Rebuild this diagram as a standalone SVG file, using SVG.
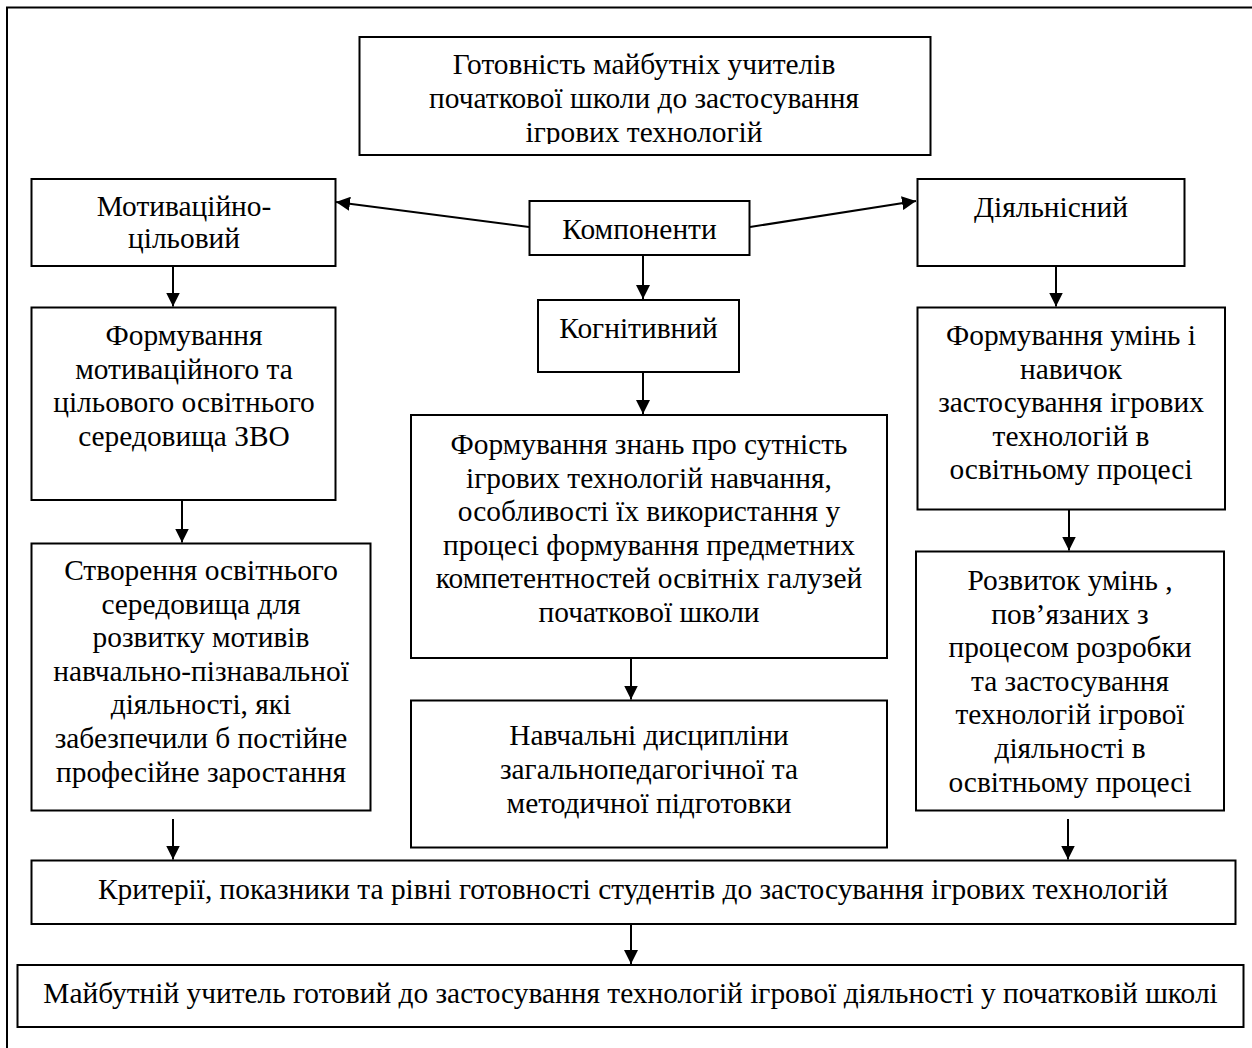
<svg xmlns="http://www.w3.org/2000/svg" width="1252" height="1048" viewBox="0 0 1252 1048">
<style>
.box{fill:#fff;stroke:#000;stroke-width:2}
.t{font-family:"Liberation Serif","Times New Roman",serif;font-size:29.4px;fill:#000;text-anchor:middle}
.c{stroke:#000;stroke-width:2;fill:none;marker-end:url(#ah)}
</style>
<defs>
<marker id="ah" markerWidth="14" markerHeight="14" refX="14" refY="7" orient="auto" markerUnits="userSpaceOnUse"><path d="M0,0 L14,7 L0,14 z" fill="#000"/></marker>
<clipPath id="tclip"><rect x="359" y="37" width="571" height="107"/></clipPath>
</defs>
<rect x="0" y="0" width="1252" height="1048" fill="#fff"/>
<rect x="7" y="7.5" width="1262" height="1060" fill="none" stroke="#000" stroke-width="2"/>

<g id="title">
<rect class="box" x="359.5" y="37" width="571" height="118"/>
<g clip-path="url(#tclip)">
<text class="t" x="644" y="74">Готовність майбутніх учителів</text>
<text class="t" x="644" y="108">початкової школи до застосування</text>
<text class="t" x="644" y="142">ігрових технологій</text>
</g>
</g>

<g id="motiv">
<rect class="box" x="31.5" y="179" width="304" height="87"/>
<text class="t" x="184" y="216">Мотиваційно-</text>
<text class="t" x="184" y="248">цільовий</text>
</g>

<g id="komponenty">
<rect class="box" x="529.5" y="201" width="220" height="54"/>
<text class="t" x="639.5" y="239">Компоненти</text>
</g>

<g id="diyal">
<rect class="box" x="917.5" y="179" width="267" height="87"/>
<text class="t" x="1051" y="217">Діяльнісний</text>
</g>

<g id="kognit">
<rect class="box" x="538" y="300" width="201" height="72"/>
<text class="t" x="638.5" y="338">Когнітивний</text>
</g>

<g id="form-motiv">
<rect class="box" x="31.5" y="307.5" width="304" height="192.5"/>
<text class="t" x="184" y="345">Формування</text>
<text class="t" x="184" y="378.6">мотиваційного та</text>
<text class="t" x="184" y="412.2">цільового освітнього</text>
<text class="t" x="184" y="445.8">середовища ЗВО</text>
</g>

<g id="form-znan">
<rect class="box" x="411" y="415" width="476" height="243"/>
<text class="t" x="649" y="454">Формування знань про сутність</text>
<text class="t" x="649" y="487.6">ігрових технологій навчання,</text>
<text class="t" x="649" y="521.2">особливості їх використання у</text>
<text class="t" x="649" y="554.8">процесі формування предметних</text>
<text class="t" x="649" y="588.4">компетентностей освітніх галузей</text>
<text class="t" x="649" y="622">початкової школи</text>
</g>

<g id="form-umin">
<rect class="box" x="917.5" y="307.5" width="307.5" height="202"/>
<text class="t" x="1071" y="345">Формування умінь і</text>
<text class="t" x="1071" y="378.6">навичок</text>
<text class="t" x="1071" y="412.2">застосування ігрових</text>
<text class="t" x="1071" y="445.8">технологій в</text>
<text class="t" x="1071" y="479.4">освітньому процесі</text>
</g>

<g id="stvorennya">
<rect class="box" x="31.5" y="543.5" width="339" height="267"/>
<text class="t" x="201" y="580">Створення освітнього</text>
<text class="t" x="201" y="613.6">середовища для</text>
<text class="t" x="201" y="647.2">розвитку мотивів</text>
<text class="t" x="201" y="680.8">навчально-пізнавальної</text>
<text class="t" x="201" y="714.4">діяльності, які</text>
<text class="t" x="201" y="748">забезпечили б постійне</text>
<text class="t" x="201" y="781.6">професійне заростання</text>
</g>

<g id="navchalni">
<rect class="box" x="411" y="700.5" width="476" height="147"/>
<text class="t" x="649" y="745">Навчальні дисципліни</text>
<text class="t" x="649" y="779">загальнопедагогічної та</text>
<text class="t" x="649" y="813">методичної підготовки</text>
</g>

<g id="rozvytok">
<rect class="box" x="916" y="551.5" width="308" height="259"/>
<text class="t" x="1070" y="590">Розвиток умінь ,</text>
<text class="t" x="1070" y="623.6">пов’язаних з</text>
<text class="t" x="1070" y="657.2">процесом розробки</text>
<text class="t" x="1070" y="690.8">та застосування</text>
<text class="t" x="1070" y="724.4">технологій ігрової</text>
<text class="t" x="1070" y="758">діяльності в</text>
<text class="t" x="1070" y="791.6">освітньому процесі</text>
</g>

<g id="kryterii">
<rect class="box" x="31.5" y="860.5" width="1204" height="63.5"/>
<text class="t" x="633" y="899">Критерії, показники та рівні готовності студентів до застосування ігрових технологій</text>
</g>

<g id="maybutniy">
<rect class="box" x="17.5" y="965" width="1226" height="62"/>
<text class="t" x="630.5" y="1003">Майбутній учитель готовий до застосування технологій ігрової діяльності у початковій школі</text>
</g>

<g id="connectors">
<line class="c" x1="529" y1="227" x2="336" y2="202"/>
<line class="c" x1="750" y1="227" x2="916" y2="201"/>
<line class="c" x1="643" y1="256" x2="643" y2="299"/>
<line class="c" x1="643" y1="372" x2="643" y2="414"/>
<line class="c" x1="173" y1="266" x2="173" y2="306.5"/>
<line class="c" x1="1056" y1="266" x2="1056" y2="306.5"/>
<line class="c" x1="182" y1="500" x2="182" y2="542.5"/>
<line class="c" x1="1069" y1="509.5" x2="1069" y2="550.5"/>
<line class="c" x1="631" y1="658" x2="631" y2="699.5"/>
<line class="c" x1="173" y1="819" x2="173" y2="859.5"/>
<line class="c" x1="1068" y1="819" x2="1068" y2="859.5"/>
<line class="c" x1="631" y1="924" x2="631" y2="964"/>
</g>
</svg>
